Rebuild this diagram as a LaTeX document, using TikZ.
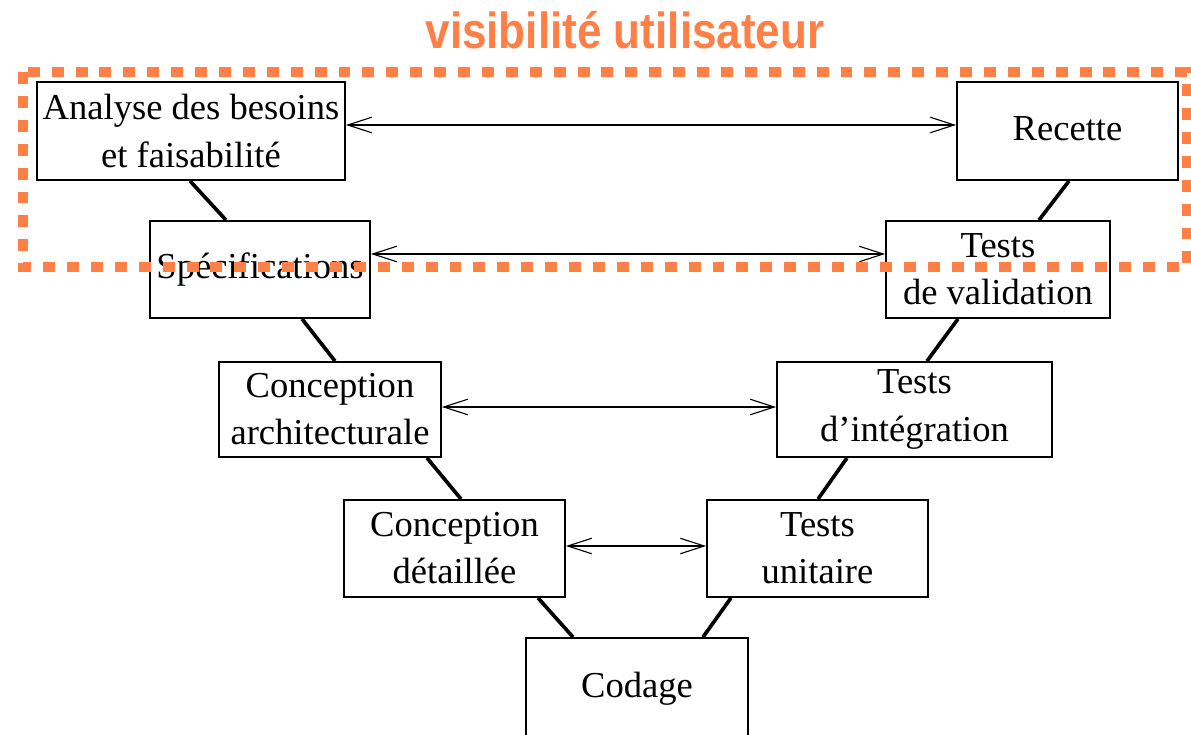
\documentclass[tikz,border=0pt]{standalone}
\usepackage{fontspec}
\setmainfont{Liberation Serif}
\newfontfamily\titlefont[FakeStretch=0.87]{Liberation Sans}
\usetikzlibrary{arrows.meta,calc}
\definecolor{vorange}{RGB}{255,128,70}
\begin{document}
\begin{tikzpicture}[x=0.025cm,y=-0.025cm,
  phase/.style={draw=black,line width=1.3pt,fill=white,inner sep=0pt,align=center,
    font=\fontsize{26}{33.5}\selectfont},
  link/.style={line width=2.6pt},
  barb/.tip={Straight Barb[length=17pt,width=11pt,line width=0.8pt]},
  pair/.style={line width=1pt,barb-barb},
  zone/.style={draw=vorange,line width=7.2pt,dash pattern=on 8.5pt off 8.5pt}]
\useasboundingbox (0,0) rectangle (1191,735);

% phases of the V cycle
\node[phase,minimum width=7.7cm,minimum height=2.45cm] (ana) at (191,131) {Analyse des besoins\\et faisabilité};
\node[phase,minimum width=5.525cm,minimum height=2.45cm] (rec) at (1067.5,131) {\raisebox{4pt}{Recette}};
\node[phase,minimum width=5.5cm,minimum height=2.425cm] (spe) at (260,269.5) {Spécifications};
\node[phase,minimum width=5.6cm,minimum height=2.425cm] (val) at (998,269.5) {Tests\\de validation};
\node[phase,minimum width=5.55cm,minimum height=2.375cm] (arc) at (330,409.5) {Conception\\architecturale};
\node[phase,minimum width=6.875cm,minimum height=2.375cm] (int) at (914.5,409.5) {Tests\\d’intégration};
\node[phase,minimum width=5.525cm,minimum height=2.425cm] (det) at (454.5,548.5) {Conception\\détaillée};
\node[phase,minimum width=5.525cm,minimum height=2.425cm] (uni) at (817.5,548.5) {Tests\\unitaire};
\node[phase,minimum width=5.55cm,minimum height=2.55cm] (cod) at (637,689) {Codage};

% descending and ascending branches
\draw[link] (ana.south -| 190,0) -- (spe.north -| 226,0);
\draw[link] (spe.south -| 302,0) -- (arc.north -| 335,0);
\draw[link] (arc.south -| 427,0) -- (det.north -| 461,0);
\draw[link] (det.south -| 538,0) -- (cod.north -| 573,0);
\draw[link] (rec.south -| 1069,0) -- (val.north -| 1039,0);
\draw[link] (val.south -| 958,0) -- (int.north -| 927,0);
\draw[link] (int.south -| 847,0) -- (uni.north -| 818,0);
\draw[link] (uni.south -| 731,0) -- (cod.north -| 703,0);

% correspondences between the two branches
\draw[pair] (ana.east |- 0,125) -- (rec.west |- 0,125);
\draw[pair] (spe.east |- 0,254) -- (val.west |- 0,254);
\draw[pair] (arc.east |- 0,407) -- (int.west |- 0,407);
\draw[pair] (det.east |- 0,546) -- (uni.west |- 0,546);

% user-visible zone
\coordinate (z1) at (23,72);
\coordinate (z2) at (1187,267);
\draw[zone] (z1) rectangle (z2);
\node[text=vorange,font=\titlefont\bfseries\fontsize{36}{40}\selectfont] (title) at (625,30) {visibilité utilisateur};
\end{tikzpicture}
\end{document}
